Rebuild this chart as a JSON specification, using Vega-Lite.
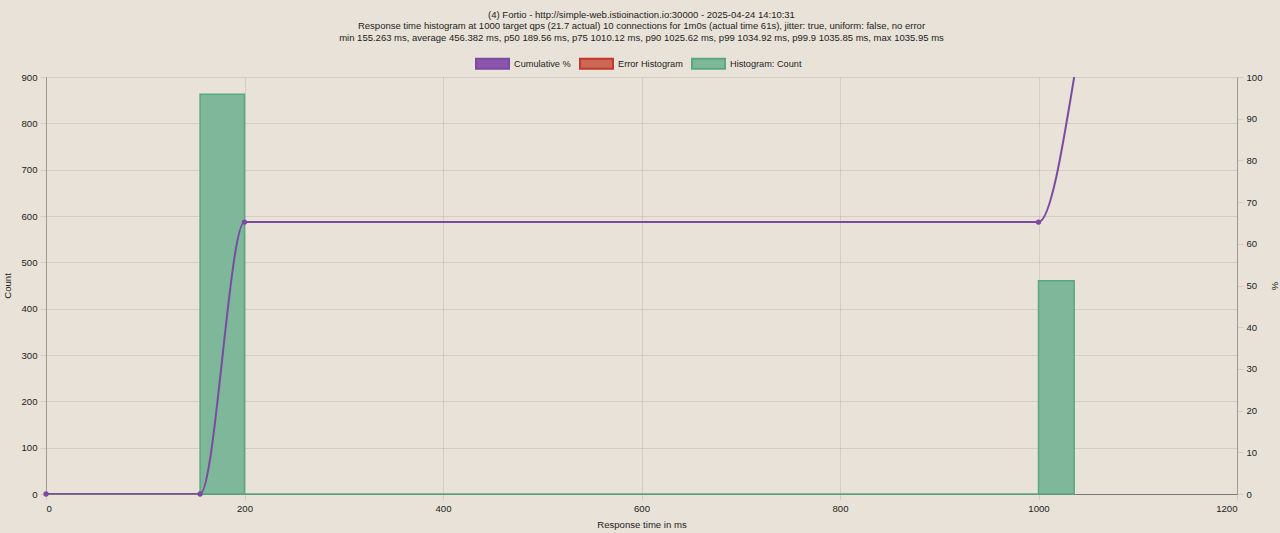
{
  "$schema": "https://vega.github.io/schema/vega-lite/v6.json",
  "autosize": {"type": "none"},
  "width": 1191,
  "height": 417,
  "padding": {"left": 46, "top": 77, "right": 43, "bottom": 39},
  "background": "#e9e2d8",
  "title": {
    "text": [
      "(4) Fortio - http://simple-web.istioinaction.io:30000 - 2025-04-24 14:10:31",
      "Response time histogram at 1000 target qps (21.7 actual) 10 connections for 1m0s (actual time 61s), jitter: true, uniform: false, no error",
      "min 155.263 ms, average 456.382 ms, p50 189.56 ms, p75 1010.12 ms, p90 1025.62 ms, p99 1034.92 ms, p99.9 1035.85 ms, max 1035.95 ms"
    ],
    "anchor": "middle",
    "font": "Liberation Sans",
    "fontSize": 9.5,
    "fontWeight": "normal",
    "color": "#222",
    "lineHeight": 11.5,
    "offset": 4
  },
  "config": {
    "view": {"stroke": null},
    "axis": {
      "labelFont": "Liberation Sans",
      "labelFontSize": 9.6,
      "labelColor": "#222",
      "titleFont": "Liberation Sans",
      "titleFontSize": 9.6,
      "titleFontWeight": "normal",
      "titleColor": "#222",
      "gridColor": "#000",
      "gridOpacity": 0.09,
      "tickColor": "#000",
      "tickOpacity": 0.09,
      "tickSize": 6,
      "labelPadding": 3,
      "domainColor": "#a09a92"
    },
    "legend": {
      "labelFont": "Liberation Sans",
      "labelFontSize": 9.2,
      "labelColor": "#222"
    }
  },
  "datasets": {
    "hist": [
      {"start": 155.263, "end": 200, "count": 863},
      {"start": 200, "end": 1000, "count": 0},
      {"start": 1000, "end": 1035.95, "count": 460}
    ],
    "cum": [
      {"x": 0, "pct": 0},
      {"x": 155.263, "pct": 0},
      {"x": 200, "pct": 65.2},
      {"x": 1000, "pct": 65.2},
      {"x": 1035.95, "pct": 100}
    ]
  },
  "layer": [
    {
      "data": {"name": "hist"},
      "layer": [
        {
          "mark": {"type": "bar", "fillOpacity": 1},
          "encoding": {
            "x": {
              "field": "start", "type": "quantitative",
              "scale": {"domain": [0, 1200], "nice": false},
              "axis": {"title": "Response time in ms", "values": [0, 200, 400, 600, 800, 1000, 1200], "format": "d", "titlePadding": 7, "domainColor": "#777"}
            },
            "x2": {"field": "end"},
            "y": {
              "field": "count", "type": "quantitative",
              "scale": {"domain": [0, 900], "nice": false},
              "axis": {"title": "Count", "orient": "left", "values": [0, 100, 200, 300, 400, 500, 600, 700, 800, 900], "titlePadding": 8}
            },
            "y2": {"datum": 0},
            "color": {
              "datum": "Histogram: Count", "type": "nominal",
              "scale": {
                "domain": ["Cumulative %", "Error Histogram", "Histogram: Count"],
                "range": ["#8a55ab", "#cc6655", "#7fb79a"]
              },
              "legend": {
                "title": null,
                "orient": "none",
                "legendX": 429,
                "legendY": -31,
                "direction": "horizontal",
                "padding": 0,
                "symbolType": "M-1,-0.3H1V0.3H-1Z",
                "symbolSize": 1089,
                "labelOffset": 4,
                "columnPadding": 5,
                "encode": {
                  "symbols": {
                    "update": {
                      "stroke": {"signal": "datum.value === 'Cumulative %' ? '#7b4ba3' : datum.value === 'Error Histogram' ? '#c0392b' : '#5aa87f'"},
                      "strokeWidth": {"value": 2}
                    }
                  }
                }
              }
            }
          }
        },
        {
          "mark": {"type": "bar", "fill": null, "fillOpacity": 0, "stroke": "#5aa87f", "strokeWidth": 1.5},
          "encoding": {
            "x": {"field": "start", "type": "quantitative"},
            "x2": {"field": "end"},
            "y": {"field": "count", "type": "quantitative"},
            "y2": {"datum": 0}
          }
        }
      ]
    },
    {
      "data": {"name": "cum"},
      "layer": [
        {
          "mark": {"type": "line", "interpolate": "monotone", "strokeWidth": 2, "clip": true, "color": "#7b4ba3"},
          "encoding": {
            "x": {"field": "x", "type": "quantitative"},
            "y": {
              "field": "pct", "type": "quantitative",
              "scale": {"domain": [0, 100], "nice": false},
              "axis": {"title": "%", "orient": "right", "values": [0, 10, 20, 30, 40, 50, 60, 70, 80, 90, 100], "titlePadding": 7}
            }
          }
        },
        {
          "transform": [{"filter": "datum.pct < 100"}],
          "mark": {"type": "point", "filled": true, "size": 28, "opacity": 1, "color": "#7b4ba3"},
          "encoding": {
            "x": {"field": "x", "type": "quantitative"},
            "y": {"field": "pct", "type": "quantitative"}
          }
        }
      ]
    }
  ],
  "resolve": {"scale": {"y": "independent"}, "axis": {"y": "independent"}}
}
